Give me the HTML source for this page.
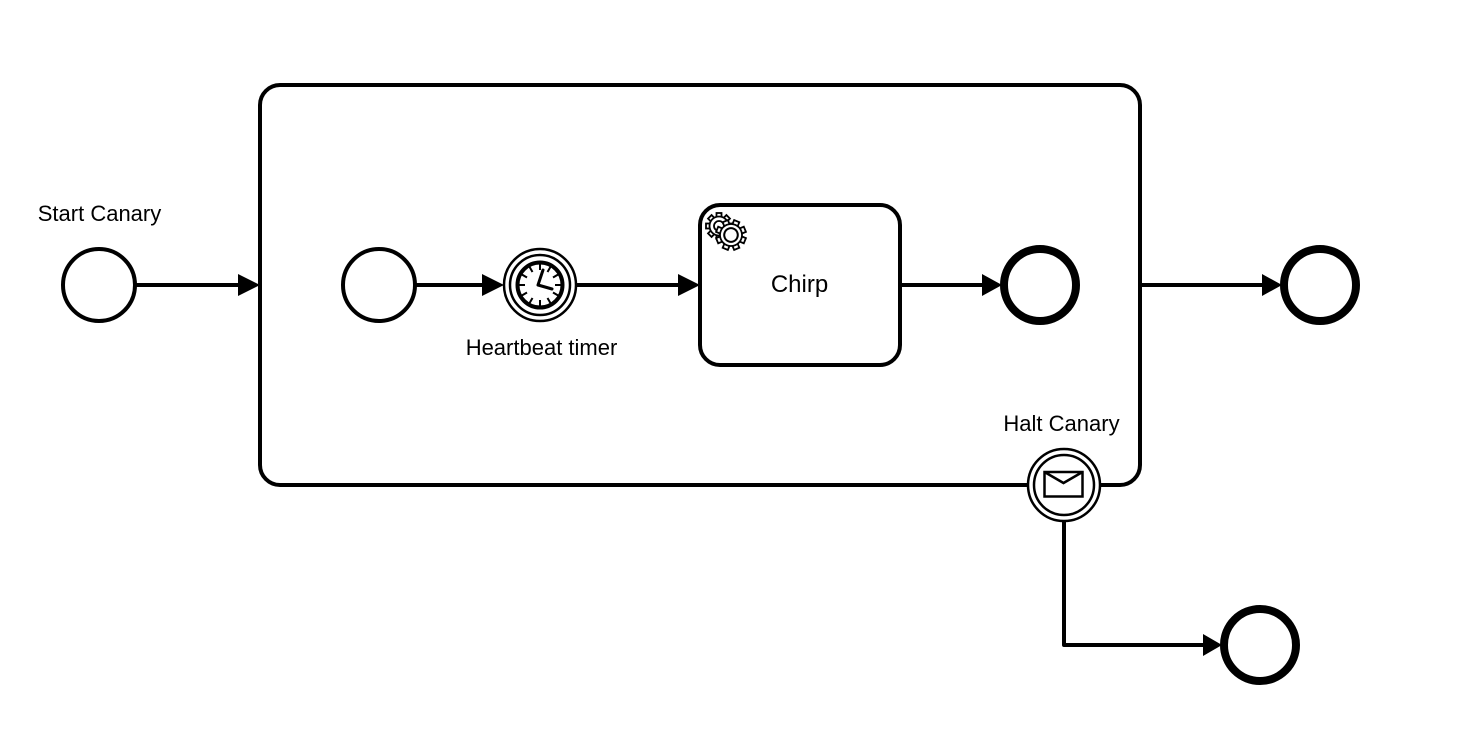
<!DOCTYPE html>
<html>
<head>
<meta charset="utf-8">
<style>
html,body{margin:0;padding:0;background:#fff;width:1468px;height:756px;overflow:hidden}
svg{display:block}
text{font-family:"Liberation Sans",Arial,sans-serif;fill:#000;text-anchor:middle}
</style>
</head>
<body>
<svg width="1468" height="756" viewBox="0 0 1468 756" xmlns="http://www.w3.org/2000/svg">
<rect width="1468" height="756" fill="#fff"/>
<!-- subprocess -->
<rect x="260" y="85" width="880" height="400" rx="20" ry="20" fill="#fff" stroke="#000" stroke-width="4"/>
<!-- connectors -->
<g stroke="#000" stroke-width="4" fill="none" stroke-linejoin="round" stroke-linecap="round">
<path d="M137 285H240"/>
<path d="M417 285H484"/>
<path d="M577 285H680"/>
<path d="M901 285H984"/>
<path d="M1141 285H1264"/>
<path d="M1064 521V645H1205"/>
</g>
<g fill="#000">
<path d="M238 274L260 285L238 296Z"/>
<path d="M482 274L504 285L482 296Z"/>
<path d="M678 274L700 285L678 296Z"/>
<path d="M982 274L1002 285L982 296Z"/>
<path d="M1262 274L1282 285L1262 296Z"/>
<path d="M1203 634L1222 645L1203 656Z"/>
</g>
<!-- start events -->
<circle cx="99" cy="285" r="36" fill="#fff" stroke="#000" stroke-width="4"/>
<circle cx="379" cy="285" r="36" fill="#fff" stroke="#000" stroke-width="4"/>
<!-- end events -->
<circle cx="1040" cy="285" r="36" fill="#fff" stroke="#000" stroke-width="8"/>
<circle cx="1320" cy="285" r="36" fill="#fff" stroke="#000" stroke-width="8"/>
<circle cx="1260" cy="645" r="36" fill="#fff" stroke="#000" stroke-width="8"/>
<!-- timer -->
<circle cx="540" cy="285" r="36" fill="#fff" stroke="#000" stroke-width="2.5"/>
<circle cx="540" cy="285" r="30" fill="#fff" stroke="#000" stroke-width="2.5"/>
<circle cx="540" cy="285" r="22.5" fill="#fff" stroke="#000" stroke-width="4"/>
<g stroke="#000" stroke-width="2" fill="none">
<path d="M540 263V270M540 300V307M518 285H525M555 285H562"/>
<path d="M529 266L532.500 272M547.500 298L551 304M521 274L527 277.500M553 292.500L559 296"/>
<path d="M551 266L547.500 272M532.500 298L529 304M559 274L553 277.500M527 292.500L521 296"/>
</g>
<path d="M538 285L543 270M538 285L552 289" stroke="#000" stroke-width="3" fill="none" stroke-linecap="round"/>
<!-- task -->
<rect x="700" y="205" width="200" height="160" rx="20" ry="20" fill="#fff" stroke="#000" stroke-width="4"/>
<!-- small gear -->
<g transform="translate(719 226)" stroke="#000" stroke-width="1.800" fill="#fff">
<g id="st">
<rect x="-2.500" y="-13" width="5" height="5"/>
<rect x="-2.500" y="-13" width="5" height="5" transform="rotate(45)"/>
<rect x="-2.500" y="-13" width="5" height="5" transform="rotate(90)"/>
<rect x="-2.500" y="-13" width="5" height="5" transform="rotate(135)"/>
<rect x="-2.500" y="-13" width="5" height="5" transform="rotate(180)"/>
<rect x="-2.500" y="-13" width="5" height="5" transform="rotate(225)"/>
<rect x="-2.500" y="-13" width="5" height="5" transform="rotate(270)"/>
<rect x="-2.500" y="-13" width="5" height="5" transform="rotate(315)"/>
</g>
<circle r="9.500"/>
<circle r="5"/>
</g>
<!-- large gear -->
<g transform="translate(731 235) rotate(22.500)" stroke="#000" stroke-width="1.800" fill="#fff">
<rect x="-2.800" y="-15" width="5.600" height="6"/>
<rect x="-2.800" y="-15" width="5.600" height="6" transform="rotate(45)"/>
<rect x="-2.800" y="-15" width="5.600" height="6" transform="rotate(90)"/>
<rect x="-2.800" y="-15" width="5.600" height="6" transform="rotate(135)"/>
<rect x="-2.800" y="-15" width="5.600" height="6" transform="rotate(180)"/>
<rect x="-2.800" y="-15" width="5.600" height="6" transform="rotate(225)"/>
<rect x="-2.800" y="-15" width="5.600" height="6" transform="rotate(270)"/>
<rect x="-2.800" y="-15" width="5.600" height="6" transform="rotate(315)"/>
<circle r="11"/>
<circle r="6.800" stroke-width="2"/>
</g>
<!-- boundary -->
<circle cx="1064" cy="485" r="36" fill="#fff" stroke="#000" stroke-width="2.500"/>
<circle cx="1064" cy="485" r="30" fill="#fff" stroke="#000" stroke-width="2.500"/>
<path d="M1044.500 472H1082.500V496.500H1044.500ZM1044.500 472L1063.500 483L1082.500 472" fill="#fff" stroke="#000" stroke-width="2.500" stroke-linejoin="miter"/>
<!-- labels -->
<text x="99.500" y="221" font-size="22">Start Canary</text>
<text x="541.500" y="355" font-size="22">Heartbeat timer</text>
<text x="1061.500" y="431" font-size="22">Halt Canary</text>
<text x="799.500" y="292" font-size="24">Chirp</text>
</svg>
</body>
</html>
